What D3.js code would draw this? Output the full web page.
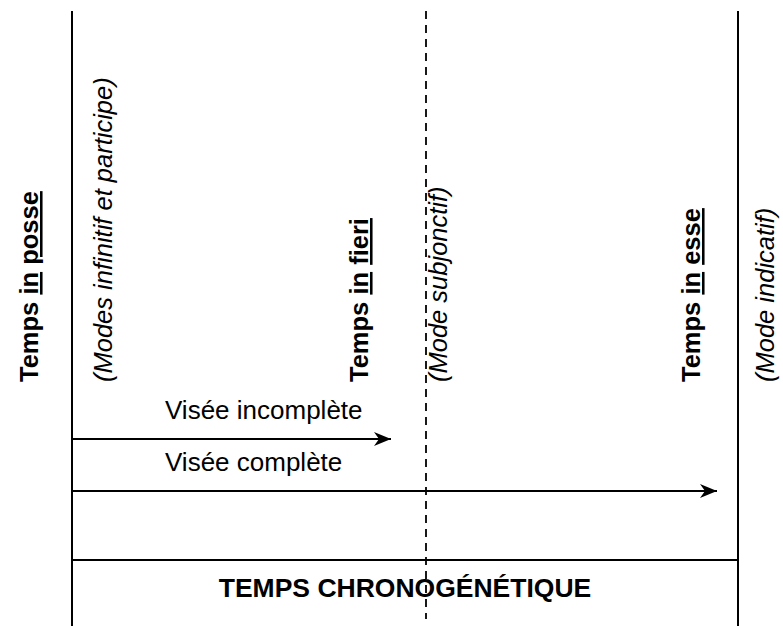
<!DOCTYPE html>
<html>
<head>
<meta charset="utf-8">
<script src="https://cdn.jsdelivr.net/npm/d3@7/dist/d3.min.js"></script>
<style>
  html, body { margin: 0; padding: 0; background: #fff; }
  svg { display: block; }
  text { font-family: "Liberation Sans", Arial, Helvetica, sans-serif; fill: #000; }
</style>
</head>
<body>
<script>
// ---- data ----
const boundaries = ["start", "fieri", "esse"];            // vertical separators
const boundaryStyles = ["solid", "dashed", "solid"];
const stageLabels = [                                        // bold vertical labels, parts: [text, underlined]
  [["Temps ", false], ["in", true], [" ", false], ["posse", true]],
  [["Temps ", false], ["in", true], [" ", false], ["fieri", true]],
  [["Temps ", false], ["in", true], [" ", false], ["esse", true]]
];
const modeLabels = ["(Modes infinitif et participe)", "(Mode subjonctif)", "(Mode indicatif)"];
const viseeLabels = ["Visée incomplète", "Visée complète"];
const viseeTargets = ["fieri", "esse"];
const bottomTitle = "TEMPS CHRONOGÉNÉTIQUE";

// ---- layout ----
const W = 783, H = 626;
const svg = d3.select("body").append("svg").attr("width", W).attr("height", H);

const x = d3.scaleOrdinal().domain(boundaries).range([72, 426, 738]);
const y = d3.scalePoint().domain(viseeLabels).range([439, 491]);

const defs = svg.append("defs");
defs.append("marker")
  .attr("id", "arrow").attr("viewBox", "0 0 17 14")
  .attr("refX", 17).attr("refY", 7)
  .attr("markerWidth", 17).attr("markerHeight", 14)
  .attr("markerUnits", "userSpaceOnUse")
  .attr("orient", "auto")
  .append("path").attr("d", "M0,0 L17,7 L0,14 L5,7 Z").attr("fill", "#000");

// vertical lines
svg.selectAll("line.v").data(boundaries).enter().append("line")
  .attr("x1", d => x(d)).attr("x2", d => x(d))
  .attr("y1", 11).attr("y2", (d, i) => boundaryStyles[i] === "dashed" ? 619 : H)
  .attr("stroke", "#000")
  .attr("stroke-width", (d, i) => boundaryStyles[i] === "dashed" ? 1.8 : 2)
  .attr("stroke-dasharray", (d, i) => boundaryStyles[i] === "dashed" ? "8,6" : null);

// horizontal separator
svg.append("line")
  .attr("x1", x("start")).attr("x2", x("esse"))
  .attr("y1", 560).attr("y2", 560)
  .attr("stroke", "#000").attr("stroke-width", 2);

// arrows (visées)
const tipOffset = { fieri: -35, esse: -21 };
svg.selectAll("line.arrow").data(viseeLabels).enter().append("line")
  .attr("x1", x("start") - 1)
  .attr("x2", (d, i) => x(viseeTargets[i]) + tipOffset[viseeTargets[i]])
  .attr("y1", d => y(d)).attr("y2", d => y(d))
  .attr("stroke", "#000").attr("stroke-width", 2)
  .attr("marker-end", "url(#arrow)");

svg.selectAll("text.visee").data(viseeLabels).enter().append("text")
  .attr("x", 165).attr("y", d => y(d) - 20)
  .attr("text-anchor", "start")
  .attr("font-size", 26)
  .text(d => d);

// stage labels (bold, vertical)
const stageOffset = [-34, -58, -38];
const textBottom = 382;
stageLabels.forEach((parts, i) => {
  const t = svg.append("text")
    .attr("transform", `translate(${x(boundaries[i]) + stageOffset[i]},${textBottom}) rotate(-90)`)
    .attr("font-size", 25.5).attr("font-weight", "bold");
  parts.forEach(p => {
    t.append("tspan").text(p[0]).style("text-decoration", p[1] ? "underline" : "none");
  });
});

// mode labels (italic, vertical)
const modeOffset = [40, 21, 36];
svg.selectAll("text.mode").data(modeLabels).enter().append("text")
  .attr("transform", (d, i) => `translate(${x(boundaries[i]) + modeOffset[i]},${textBottom}) rotate(-90)`)
  .attr("font-size", 25.5).attr("font-style", "italic")
  .text(d => d);

// bottom title
svg.append("text")
  .attr("x", 405).attr("y", 597)
  .attr("text-anchor", "middle")
  .attr("font-size", 26.5).attr("font-weight", "bold")
  .text(bottomTitle);
</script>
</body>
</html>
